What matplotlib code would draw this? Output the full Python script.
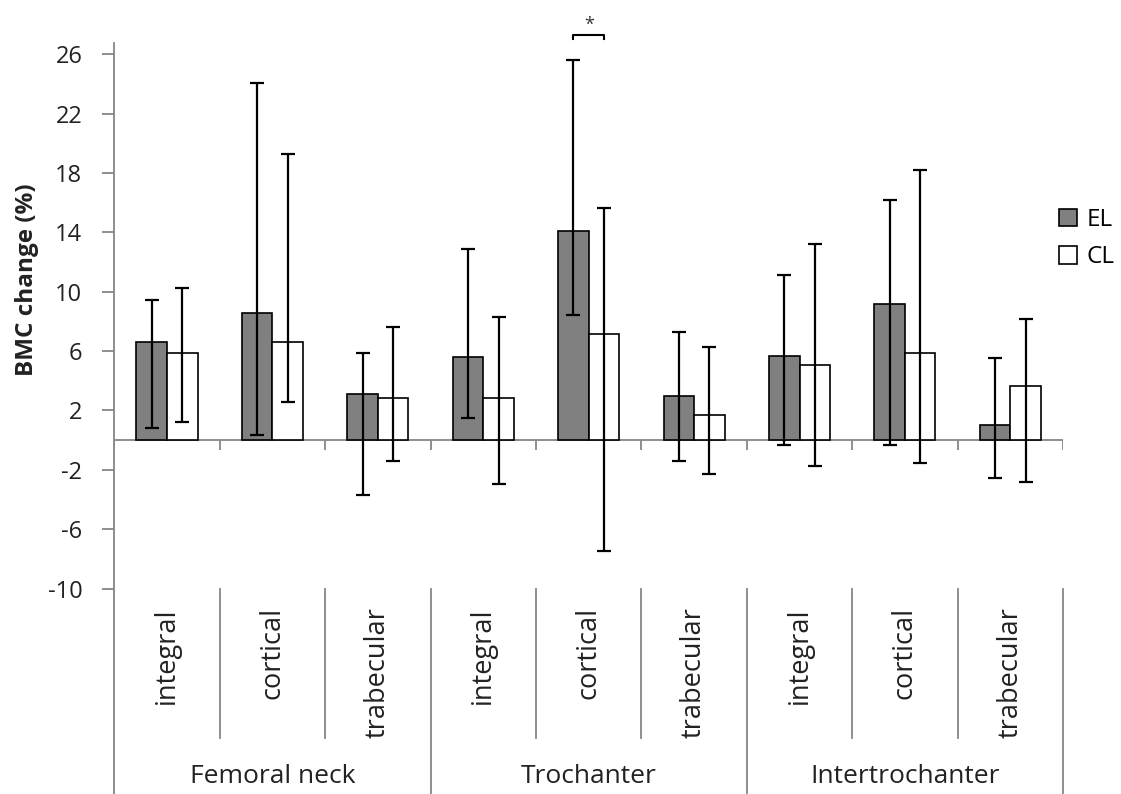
import numpy as np
import matplotlib.pyplot as plt
import matplotlib.transforms as mtransforms
from matplotlib.patches import Patch

plt.rcParams['font.family'] = ['Open Sans', 'DejaVu Sans']
plt.rcParams['axes.unicode_minus'] = False

# categories
groups = ["Femoral neck", "Trochanter", "Intertrochanter"]
parts = ["integral", "cortical", "trabecular"]
series = ["EL", "CL"]

# EL (grey bars): mean and the ends of the error bars
el_mean = [6.6, 8.55, 3.1, 5.6, 14.1, 3.0, 5.7, 9.2, 1.05]
el_low = [0.8, 0.35, -3.7, 1.5, 8.45, -1.4, -0.35, -0.35, -2.55]
el_high = [9.45, 24.05, 5.85, 12.9, 25.6, 7.3, 11.1, 16.15, 5.55]

# CL (white bars)
cl_mean = [5.85, 6.6, 2.85, 2.85, 7.15, 1.7, 5.05, 5.85, 3.65]
cl_low = [1.2, 2.6, -1.4, -2.95, -7.45, -2.3, -1.75, -1.55, -2.8]
cl_high = [10.25, 19.3, 7.65, 8.3, 15.65, 6.25, 13.2, 18.2, 8.15]

yticks = [-10, -6, -2, 2, 6, 10, 14, 18, 22, 26]
sig_index = 4  # Trochanter cortical, marked with *

axis_grey = '#868686'
text_col = '#222222'

fig = plt.figure(figsize=(11.21, 7.94), dpi=100)
ax = fig.add_axes([0.102, 0.2588, 0.8463, 0.6867])

x = np.arange(len(groups) * len(parts))
w = 0.29
el_mean = np.array(el_mean)
cl_mean = np.array(cl_mean)

# bars
ax.bar(x - w/2, el_mean, w, color='#808080', edgecolor='black', linewidth=1.2, zorder=2)
ax.bar(x + w/2, cl_mean, w, color='white', edgecolor='black', linewidth=1.2, zorder=2)

# error bars (not symmetric)
el_err = [el_mean - np.array(el_low), np.array(el_high) - el_mean]
cl_err = [cl_mean - np.array(cl_low), np.array(cl_high) - cl_mean]
ax.errorbar(x - w/2, el_mean, yerr=el_err, fmt='none', ecolor='black',
            elinewidth=1.6, capsize=4.8, capthick=1.6, zorder=3)
ax.errorbar(x + w/2, cl_mean, yerr=cl_err, fmt='none', ecolor='black',
            elinewidth=1.6, capsize=4.8, capthick=1.6, zorder=3)

ax.set_xlim(-0.5, len(x) - 0.5)
ax.set_ylim(-10, 26.74)
ax.set_yticks(yticks)
ax.set_xticks([])

# axis look
for s in ['top', 'right', 'bottom']:
    ax.spines[s].set_visible(False)
ax.spines['left'].set_color(axis_grey)
ax.spines['left'].set_linewidth(1.3)
ax.tick_params(axis='y', length=9, width=1.3, color=axis_grey,
               labelsize=17, pad=14, labelcolor=text_col)

# horizontal axis at zero with small ticks
ax.axhline(0, color=axis_grey, lw=1.3, zorder=1)
bounds = np.arange(len(x) + 1) - 0.5
ax.vlines(bounds, -0.7, 0, color=axis_grey, lw=1.3, zorder=1)

# category / group labels below the plot
trans = mtransforms.blended_transform_factory(ax.transData, ax.transAxes)
for i in x:
    ax.text(i, -0.034, parts[i % 3], rotation=90, ha='center', va='top',
            fontsize=19.5, color=text_col, transform=trans)
for b in bounds:
    if b in (-0.5, 2.5, 5.5, 8.5):
        ax.plot([b, b], [0, -0.377], color=axis_grey, lw=1.3,
                transform=trans, clip_on=False)
    else:
        ax.plot([b, b], [0, -0.274], color=axis_grey, lw=1.3,
                transform=trans, clip_on=False)
for g in range(len(groups)):
    ax.text(g * 3 + 1, -0.344, groups[g], ha='center', va='center',
            fontsize=19, color=text_col, transform=trans)

ax.set_ylabel('BMC change (%)', fontweight='bold', fontsize=17.5, color=text_col)
ax.yaxis.set_label_coords(-0.079, 0.566)

# significance bracket
x1 = sig_index - w/2
x2 = sig_index + w/2
ax.plot([x1, x1, x2, x2], [27.0, 27.3, 27.3, 27.0], color='black', lw=1.5, clip_on=False)
ax.text(sig_index, 28.0, '*', ha='center', va='center', fontsize=13, color='#333333')

# legend
handles = [Patch(facecolor='#808080', edgecolor='black', linewidth=1.2),
           Patch(facecolor='white', edgecolor='black', linewidth=1.2)]
fig.legend(handles, series, loc='upper left', bbox_to_anchor=(0.9447, 1 - 208/794),
           frameon=False, fontsize=17.5, handlelength=0.75, handleheight=0.75,
           handletextpad=0.4, labelspacing=0.55, borderpad=0, borderaxespad=0)

fig.savefig('out.png', dpi=100)
